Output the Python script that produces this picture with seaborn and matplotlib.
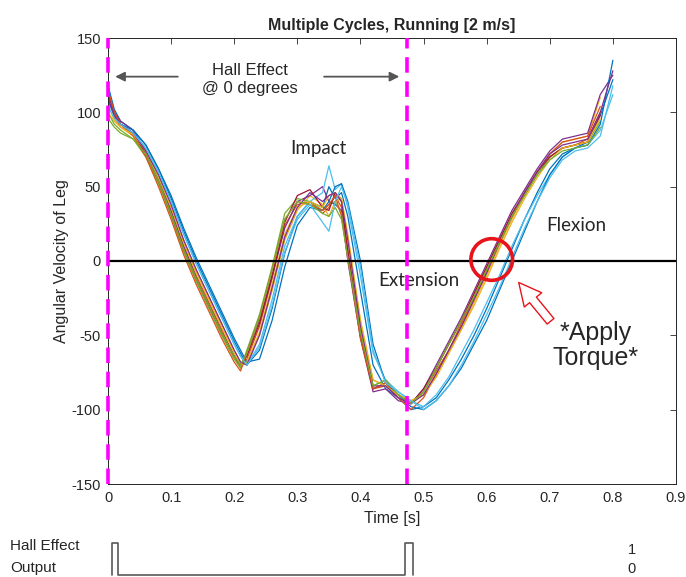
import numpy as np
import pandas as pd
import matplotlib
matplotlib.use("Agg")
import matplotlib.pyplot as plt
import seaborn as sns
from matplotlib.patches import Ellipse

# ---------------- data ----------------
time_grid = [0, 0.01, 0.02, 0.04, 0.06, 0.08, 0.10, 0.12, 0.14, 0.16, 0.18, 0.20, 0.21, 0.22,
             0.24, 0.26, 0.28, 0.30, 0.32, 0.34, 0.35, 0.36, 0.37, 0.38, 0.40, 0.42, 0.44,
             0.46, 0.48, 0.50, 0.52, 0.54, 0.56, 0.58, 0.60, 0.62, 0.64, 0.66, 0.68, 0.70,
             0.72, 0.74, 0.76, 0.78, 0.80]

cycle_01 = [118, 102, 94, 88, 78, 62, 42, 20, 0, -18, -36, -54, -62, -70, -60, -32, 5, 30, 40, 36, 50, 42, 46, 30, -20, -70, -86, -92, -100, -98, -92, -80, -66, -50, -32, -12, 8, 28, 46, 62, 72, 76, 80, 98, 122]
cycle_02 = [110, 97, 90, 85, 72, 54, 34, 10, -10, -28, -46, -64, -72, -66, -44, -12, 24, 38, 40, 32, 36, 44, 36, 8, -48, -86, -84, -92, -96, -88, -74, -60, -44, -26, -8, 12, 30, 44, 58, 70, 76, 78, 82, 100]
cycle_03 = [105, 95, 90, 84, 73, 56, 36, 14, -6, -24, -42, -60, -68, -70, -50, -20, 14, 34, 44, 38, 30, 40, 42, 18, -40, -80, -84, -90, -94, -90, -78, -62, -46, -28, -10, 10, 28, 44, 60, 72, 80, 82, 84, 110]
cycle_04 = [112, 100, 94, 88, 74, 56, 34, 10, -12, -30, -48, -64, -70, -62, -40, -10, 22, 40, 44, 50, 40, 38, 34, 0, -52, -88, -86, -94, -96, -86, -70, -54, -38, -20, -2, 16, 34, 48, 62, 74, 82, 84, 86, 112, 125]
cycle_05 = [100, 92, 88, 82, 70, 52, 30, 6, -14, -32, -50, -66, -72, -60, -36, -4, 32, 42, 40, 34, 38, 40, 32, 4, -46, -84, -80, -90, -95, -88, -72, -56, -40, -22, -4, 14, 30, 46, 58, 70, 76, 78, 80, 94]
cycle_06 = [108, 98, 92, 86, 76, 60, 40, 18, -2, -20, -38, -56, -64, -70, -56, -26, 10, 30, 40, 46, 64, 48, 52, 36, -10, -62, -80, -88, -94, -98, -90, -78, -62, -46, -28, -10, 10, 28, 44, 58, 70, 76, 78, 88, 112]
cycle_07 = [114, 100, 92, 86, 72, 54, 32, 8, -12, -30, -48, -64, -70, -64, -42, -10, 26, 44, 48, 36, 34, 46, 40, 6, -50, -86, -82, -90, -96, -86, -72, -56, -40, -22, -4, 14, 32, 46, 60, 70, 76, 78, 80, 98]
cycle_08 = [108, 98, 92, 88, 78, 62, 44, 22, 2, -16, -34, -52, -60, -68, -66, -40, -4, 24, 36, 34, 40, 50, 52, 40, 0, -56, -82, -90, -98, -100, -94, -84, -72, -56, -40, -20, 0, 20, 40, 58, 70, 76, 78, 92, 135]
cycle_09 = [115, 100, 92, 84, 70, 50, 28, 4, -16, -34, -52, -68, -74, -62, -38, -6, 28, 40, 38, 34, 38, 44, 30, 2, -52, -86, -82, -92, -100, -92, -76, -60, -42, -24, -6, 12, 30, 46, 60, 72, 80, 82, 84, 104]
cycle_10 = [100, 94, 90, 85, 74, 56, 36, 12, -8, -26, -44, -62, -70, -68, -48, -16, 18, 36, 40, 36, 44, 46, 42, 16, -40, -80, -84, -90, -94, -90, -78, -62, -46, -30, -12, 8, 26, 42, 56, 68, 76, 78, 80, 96]
cycle_11 = [110, 98, 92, 86, 74, 58, 38, 14, -6, -24, -42, -60, -68, -70, -50, -18, 16, 36, 46, 40, 44, 46, 40, 14, -44, -84, -84, -92, -96, -90, -76, -60, -44, -26, -8, 12, 30, 46, 60, 72, 78, 80, 82, 100, 128]
cycle_12 = [96, 90, 86, 82, 72, 54, 32, 8, -12, -30, -48, -64, -70, -62, -38, -6, 28, 40, 38, 32, 30, 36, 28, 2, -48, -84, -80, -90, -96, -88, -72, -56, -40, -24, -6, 12, 30, 44, 58, 68, 74, 76, 78, 90]
cycle_13 = [104, 96, 92, 86, 76, 60, 40, 18, -2, -20, -38, -56, -64, -70, -58, -30, 6, 28, 38, 26, 20, 40, 50, 38, -4, -60, -82, -88, -94, -100, -94, -84, -70, -54, -36, -18, 2, 22, 40, 56, 68, 74, 76, 84, 118]

cycles = [cycle_01, cycle_02, cycle_03, cycle_04, cycle_05, cycle_06, cycle_07,
          cycle_08, cycle_09, cycle_10, cycle_11, cycle_12, cycle_13]

hall_marks = [0.0, 0.473]
hall_time = [0.006, 0.006, 0.016, 0.016, 0.471, 0.471, 0.484, 0.484]
hall_level = [0, 1, 1, 0, 0, 1, 1, 0]

x_ticks = [0, 0.1, 0.2, 0.3, 0.4, 0.5, 0.6, 0.7, 0.8, 0.9]
x_tick_labels = ["0", "0.1", "0.2", "0.3", "0.4", "0.5", "0.6", "0.7", "0.8", "0.9"]
y_ticks = [-150, -100, -50, 0, 50, 100, 150]
y_tick_labels = ["-150", "-100", "-50", "0", "50", "100", "150"]

matlab_colors = ["#0072BD", "#D95319", "#EDB120", "#7E2F8E", "#77AC30", "#4DBEEE", "#A2142F"]

# ---------------- frame ----------------
rows = []
for i, c in enumerate(cycles):
    for t, v in zip(time_grid[:len(c)], c):
        rows.append({"time": t, "value": v, "cycle": f"c{i+1:02d}"})
df = pd.DataFrame(rows)
palette = [matlab_colors[i % len(matlab_colors)] for i in range(len(cycles))]

sns.set_style("white")
plt.rcParams['font.family'] = ['Liberation Sans', 'DejaVu Sans']
plt.rcParams['axes.unicode_minus'] = False

fig = plt.figure(figsize=(6.86, 5.77), dpi=100)
ax = fig.add_axes([108/686, 1-484/577, 568/686, 446/577])

sns.lineplot(data=df, x="time", y="value", hue="cycle", palette=palette,
             estimator=None, legend=False, linewidth=0.9, ax=ax, sort=False)

ax.axhline(0, color="black", lw=1.6, zorder=3)
for xm in hall_marks:
    ax.axvline(xm, color="#FF00FF", lw=2.6, dashes=(4.3, 2.4), zorder=4, clip_on=False)

ax.set_xlim(0, 0.9)
ax.set_ylim(-150, 150)
ax.set_xticks(x_ticks)
ax.set_xticklabels(x_tick_labels)
ax.set_yticks(y_ticks)
ax.set_yticklabels(y_tick_labels)
ax.tick_params(direction="in", length=4, width=0.6, top=True, right=True,
               labelsize=10.5, colors="#262626", pad=5)
for s in ax.spines.values():
    s.set_color("#262626")
    s.set_linewidth(0.7)
ax.set_xlabel("Time [s]", fontsize=11.5, color="#262626", labelpad=4)
ax.set_ylabel("Angular Velocity of Leg", fontsize=11.5, color="#262626", labelpad=2)
ax.set_title("Multiple Cycles, Running [2 m/s]", fontsize=11.5, fontweight="bold", pad=6)

# annotations
ax.text(0.225, 122, "Hall Effect\n@ 0 degrees", ha="center", va="center", fontsize=12,
        linespacing=1.25)
ax.annotate("", xy=(0.007, 124), xytext=(0.115, 124),
            arrowprops=dict(arrowstyle="-|>", color="#555555", lw=1.3, mutation_scale=14))
ax.annotate("", xy=(0.466, 124), xytext=(0.338, 124),
            arrowprops=dict(arrowstyle="-|>", color="#555555", lw=1.3, mutation_scale=14))

label_font = ['Lato', 'DejaVu Sans']
ax.text(0.333, 76, "Impact", ha="center", va="center", fontsize=13.5, family=label_font, color="#262626")
ax.text(0.492, -13, "Extension", ha="center", va="center", fontsize=13.5, family=label_font, color="#262626")
ax.text(0.742, 24, "Flexion", ha="center", va="center", fontsize=13.5, family=label_font, color="#262626")

ax.add_patch(Ellipse((0.608, 1), width=0.066, height=28, fill=False, ec="#E8141B", lw=2.6, zorder=6))
ax.annotate("", xy=(0.648, -13), xytext=(0.704, -42),
            arrowprops=dict(arrowstyle="simple,head_length=0.9,head_width=0.9,tail_width=0.35",
                            fc="white", ec="#E8141B", lw=1.0, mutation_scale=18))
ax.text(0.772, -57, "*Apply\nTorque*", ha="center", va="center", fontsize=18, linespacing=1.05)

# hall effect output strip
ax2 = fig.add_axes([108/686, 0, 568/686, 37/577])
ax2.plot(hall_time, hall_level, color="#595959", lw=1.2)
ax2.set_xlim(0, 0.9)
ax2.set_ylim(-2/32, 1 + 3/32)
ax2.axis("off")
fig.text(10/686, 1-546/577, "Hall Effect", ha="left", va="center", fontsize=11)
fig.text(10/686, 1-568/577, "Output", ha="left", va="center", fontsize=11)
fig.text(632/686, 1-550/577, "1", ha="center", va="center", fontsize=10.5)
fig.text(632/686, 1-569/577, "0", ha="center", va="center", fontsize=10.5)

fig.savefig("out.png", dpi=100)
